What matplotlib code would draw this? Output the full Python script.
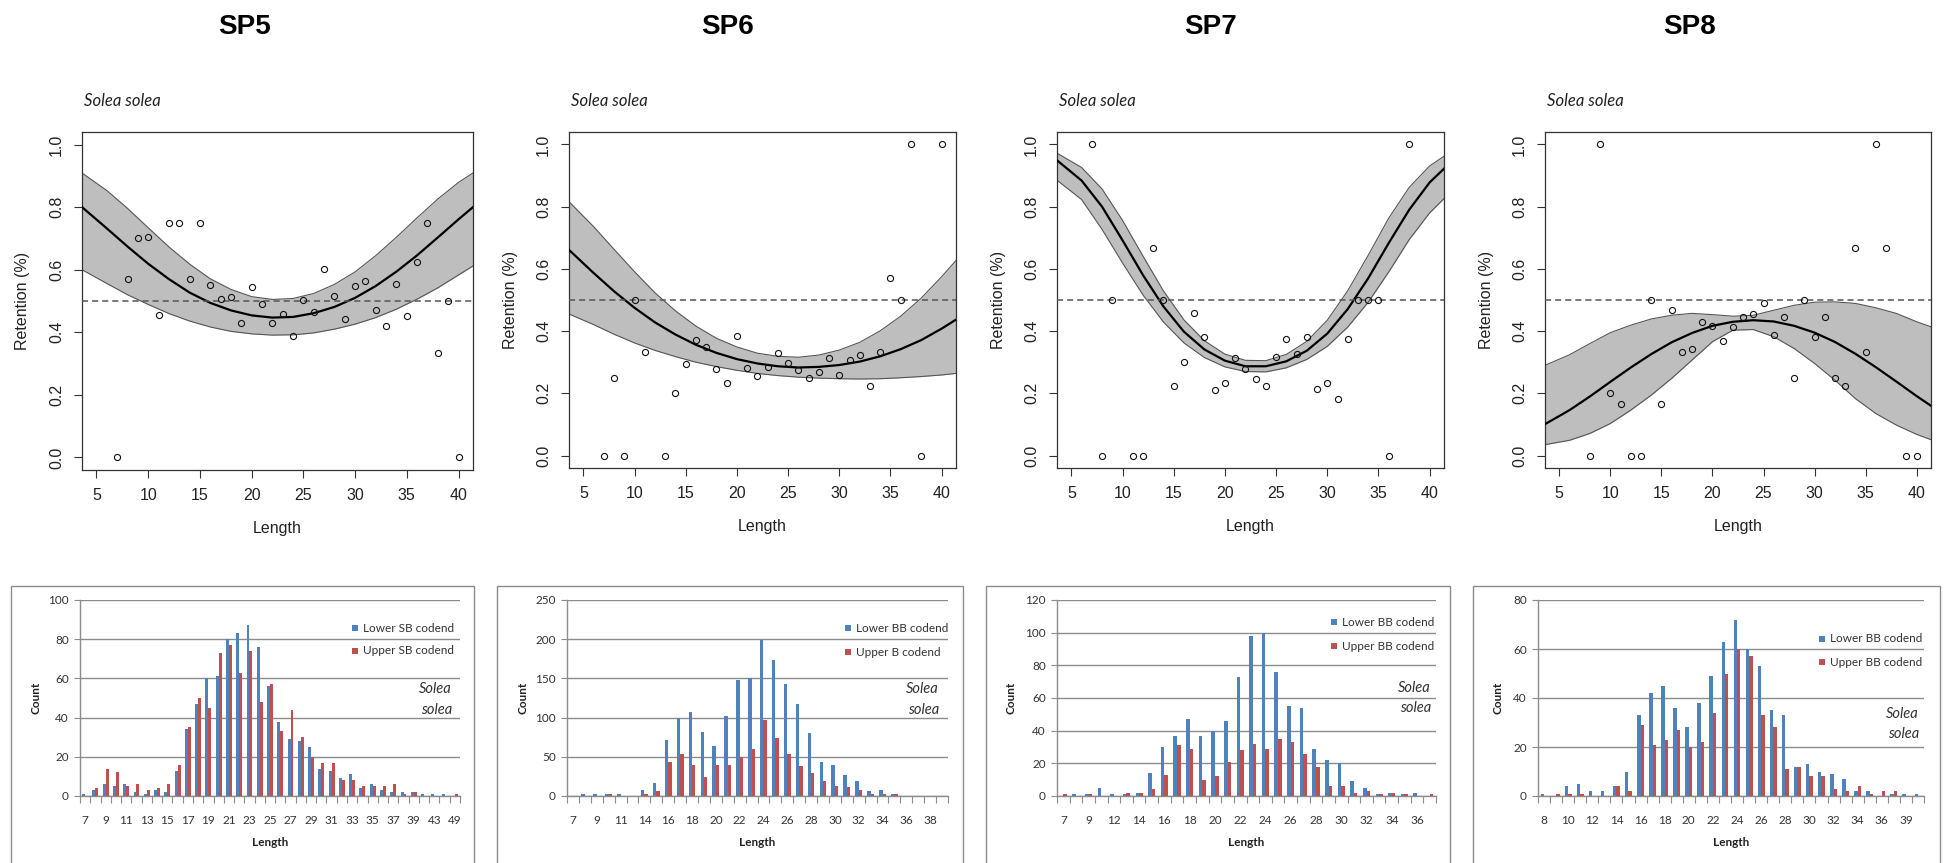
import matplotlib
matplotlib.use("Agg")
import matplotlib.pyplot as plt
from matplotlib.patches import Rectangle

# ---------------------------------------------------------------- data
# retention by length class (observed proportions)
sp5_len = list(range(7, 41))
sp5_ret = [0.0, 0.571, 0.700, 0.706, 0.455, 0.75, 0.75, 0.571, 0.75, 0.55,
           0.507, 0.514, 0.429, 0.545, 0.490, 0.429, 0.459, 0.387, 0.504, 0.465,
           0.602, 0.516, 0.444, 0.547, 0.564, 0.471, 0.421, 0.553, 0.452, 0.624,
           0.75, 0.333, 0.5, 0.0]

sp6_len = [7, 8, 9, 10, 11, 13, 14, 15, 16, 17, 18, 19, 20, 21, 22, 23, 24, 25,
           26, 27, 28, 29, 30, 31, 32, 33, 34, 35, 36, 37, 38, 40]
sp6_ret = [0.0, 0.25, 0.0, 0.5, 0.333, 0.0, 0.2, 0.293, 0.371, 0.35, 0.279,
           0.233, 0.385, 0.282, 0.255, 0.285, 0.331, 0.299, 0.274, 0.248, 0.267,
           0.314, 0.258, 0.308, 0.322, 0.224, 0.333, 0.571, 0.5, 1.0, 0.0, 1.0]

sp7_len = [7, 8, 9, 11, 12, 13, 14, 15, 16, 17, 18, 19, 20, 21, 22, 23, 24, 25,
           26, 27, 28, 29, 30, 31, 32, 33, 34, 35, 36, 38]
sp7_ret = [1.0, 0.0, 0.5, 0.0, 0.0, 0.667, 0.5, 0.224, 0.302, 0.457, 0.382,
           0.212, 0.233, 0.314, 0.279, 0.247, 0.224, 0.317, 0.375, 0.326, 0.382,
           0.215, 0.233, 0.183, 0.375, 0.5, 0.5, 0.5, 0.0, 1.0]

sp8_len = [8, 9, 10, 11, 12, 13, 14, 15, 16, 17, 18, 19, 20, 21, 22, 23, 24, 25,
           26, 27, 28, 29, 30, 31, 32, 33, 34, 35, 36, 37, 39, 40]
sp8_ret = [0.0, 1.0, 0.2, 0.167, 0.0, 0.0, 0.5, 0.167, 0.467, 0.333, 0.341,
           0.429, 0.417, 0.368, 0.412, 0.444, 0.454, 0.489, 0.386, 0.445, 0.25,
           0.5, 0.382, 0.444, 0.25, 0.222, 0.667, 0.333, 1.0, 0.667, 0.0, 0.0]

# fitted retention curves with confidence bands
fit_len = [3.6, 6, 8, 10, 12, 14, 16, 18, 20, 22, 24, 26, 28, 30, 32, 34, 36,
           38, 40, 41.4]

sp5_fit = [0.800, 0.732, 0.674, 0.619, 0.570, 0.527, 0.494, 0.470, 0.454, 0.447,
           0.449, 0.461, 0.481, 0.510, 0.548, 0.594, 0.646, 0.703, 0.761, 0.800]
sp5_hi = [0.909, 0.853, 0.796, 0.734, 0.673, 0.618, 0.571, 0.537, 0.514, 0.505,
          0.508, 0.524, 0.553, 0.593, 0.645, 0.704, 0.766, 0.826, 0.879, 0.909]
sp5_lo = [0.600, 0.556, 0.520, 0.489, 0.460, 0.436, 0.417, 0.403, 0.395, 0.391,
          0.392, 0.398, 0.410, 0.426, 0.447, 0.474, 0.506, 0.542, 0.583, 0.612]

sp6_fit = [0.661, 0.587, 0.528, 0.475, 0.428, 0.389, 0.356, 0.330, 0.310, 0.296,
           0.287, 0.283, 0.285, 0.291, 0.302, 0.319, 0.342, 0.371, 0.408, 0.437]
sp6_hi = [0.816, 0.736, 0.663, 0.591, 0.523, 0.465, 0.416, 0.377, 0.349, 0.329,
          0.319, 0.316, 0.323, 0.339, 0.364, 0.401, 0.448, 0.506, 0.575, 0.627]
sp6_lo = [0.455, 0.421, 0.390, 0.362, 0.338, 0.318, 0.300, 0.286, 0.274, 0.264,
          0.257, 0.252, 0.249, 0.247, 0.246, 0.247, 0.250, 0.254, 0.259, 0.264]

sp7_fit = [0.949, 0.884, 0.800, 0.692, 0.580, 0.479, 0.398, 0.341, 0.305, 0.287,
           0.287, 0.303, 0.337, 0.392, 0.471, 0.570, 0.683, 0.790, 0.878, 0.922]
sp7_hi = [0.972, 0.926, 0.857, 0.756, 0.641, 0.529, 0.436, 0.369, 0.326, 0.306,
          0.305, 0.325, 0.367, 0.435, 0.530, 0.644, 0.763, 0.862, 0.931, 0.962]
sp7_lo = [0.885, 0.823, 0.727, 0.619, 0.516, 0.429, 0.362, 0.315, 0.285, 0.270,
          0.269, 0.282, 0.309, 0.351, 0.413, 0.493, 0.590, 0.694, 0.780, 0.826]

sp8_fit = [0.101, 0.146, 0.190, 0.237, 0.283, 0.326, 0.364, 0.394, 0.417, 0.430,
           0.435, 0.431, 0.417, 0.395, 0.365, 0.327, 0.284, 0.238, 0.191, 0.160]
sp8_hi = [0.290, 0.324, 0.360, 0.395, 0.419, 0.439, 0.451, 0.457, 0.453, 0.448,
          0.451, 0.467, 0.483, 0.493, 0.494, 0.489, 0.475, 0.457, 0.430, 0.414]
sp8_lo = [0.035, 0.049, 0.071, 0.103, 0.146, 0.194, 0.248, 0.307, 0.366, 0.403,
          0.405, 0.382, 0.344, 0.296, 0.242, 0.183, 0.135, 0.098, 0.068, 0.051]

# length-frequency counts per codend
sp5_cats = list(range(7, 40)) + [41, 43, 45, 49]
sp5_lower = [1, 3, 6, 5, 6, 2, 1, 3, 2, 13, 34, 47, 60, 61, 80, 83, 87, 76, 56,
             38, 29, 28, 25, 14, 13, 9, 11, 4, 6, 3, 2, 2, 2, 1, 1, 1, 0]
sp5_upper = [0, 4, 14, 12, 5, 6, 3, 4, 6, 16, 35, 50, 45, 73, 77, 63, 74, 48, 57,
             33, 44, 30, 20, 17, 17, 8, 8, 5, 5, 5, 6, 1, 2, 0, 0, 0, 1]

sp6_cats = [7, 8, 9, 10, 11, 13] + list(range(14, 40))
sp6_lower = [0, 3, 3, 3, 2, 0, 8, 17, 72, 100, 107, 82, 64, 102, 148, 150, 199,
             173, 143, 117, 80, 44, 39, 27, 19, 7, 8, 3, 0, 0, 0, 0]
sp6_upper = [0, 0, 0, 3, 0, 0, 2, 7, 43, 54, 40, 24, 39, 39, 50, 60, 97, 74, 54,
             38, 29, 19, 13, 12, 8, 2, 3, 3, 0, 0, 0, 0]

sp7_cats = [7, 8, 9, 10] + list(range(12, 38))
sp7_lower = [0, 1, 1, 5, 1, 1, 2, 14, 30, 37, 47, 37, 40, 46, 73, 98, 100, 76, 55,
             54, 29, 22, 20, 9, 5, 1, 2, 1, 2, 0]
sp7_upper = [1, 0, 1, 0, 0, 2, 2, 4, 13, 31, 29, 10, 12, 21, 28, 32, 29, 35, 33,
             26, 18, 6, 6, 2, 3, 1, 2, 1, 0, 1]

sp8_cats = list(range(8, 37)) + [38, 39, 40]
sp8_lower = [1, 0, 4, 5, 2, 2, 4, 10, 33, 42, 45, 36, 28, 38, 49, 63, 72, 60, 53,
             35, 33, 12, 13, 10, 9, 7, 2, 2, 0, 1, 1, 1]
sp8_upper = [0, 1, 1, 1, 0, 0, 4, 2, 29, 21, 23, 27, 20, 22, 34, 50, 60, 57, 33,
             28, 11, 12, 8, 8, 3, 2, 4, 1, 2, 2, 0, 0]

# ---------------------------------------------------------------- figure
W, H = 1944, 863
fig = plt.figure(figsize=(W / 100, H / 100), dpi=100)
fig.patch.set_facecolor("white")

R_FONT = "Liberation Sans"
XL_FONT = "Lato"
BLUE = "#4F81BD"
RED = "#C0504D"
GRID = "#8C8C8C"


def fx(x):
    return x / W


def fy(y):
    return 1 - y / H


def px_axes(x0, y0, x1, y1):
    return fig.add_axes([fx(x0), fy(y1), (x1 - x0) / W, (y1 - y0) / H])


# ---------------------------------------------------------------- retention panels
top_panels = [
    ("SP5", 245, (82, 132, 473, 470), sp5_len, sp5_ret, sp5_fit, sp5_lo, sp5_hi),
    ("SP6", 728, (569, 132, 956, 468), sp6_len, sp6_ret, sp6_fit, sp6_lo, sp6_hi),
    ("SP7", 1211, (1057, 132, 1444, 468), sp7_len, sp7_ret, sp7_fit, sp7_lo, sp7_hi),
    ("SP8", 1690, (1545, 132, 1931, 468), sp8_len, sp8_ret, sp8_fit, sp8_lo, sp8_hi),
]

for title, tx, box, lens, ret, fit, lo, hi in top_panels:
    x0, y0, x1, y1 = box
    fig.text(fx(tx), fy(27), title, family=R_FONT, weight="bold", fontsize=20,
             ha="center", va="center")
    fig.text(fx(x0 + 2), fy(101), "Solea solea", family=XL_FONT, style="italic",
             fontsize=12, ha="left", va="center", color="#222222")

    ax = px_axes(x0, y0, x1, y1)
    ax.fill_between(fit_len, lo, hi, color="#BEBEBE", lw=0, zorder=1)
    ax.plot(fit_len, hi, color="#555555", lw=0.8, zorder=2)
    ax.plot(fit_len, lo, color="#555555", lw=0.8, zorder=2)
    ax.plot(fit_len, fit, color="black", lw=1.6, zorder=3)
    ax.axhline(0.5, color="#555555", lw=1.1, dashes=(4, 2.6), zorder=3)
    ax.plot(lens, ret, "o", mfc="none", mec="#111111", ms=4.4, mew=0.8, zorder=4)

    ax.set_xlim(3.6, 41.4)
    ax.set_ylim(-0.04, 1.04)
    ax.set_xticks([5, 10, 15, 20, 25, 30, 35, 40])
    ax.set_yticks([0, 0.2, 0.4, 0.6, 0.8, 1.0])
    ax.set_yticklabels(["0.0", "0.2", "0.4", "0.6", "0.8", "1.0"], rotation=90,
                       va="center")
    ax.tick_params(direction="out", length=6, width=0.8, color="#333333",
                   labelsize=11.5, labelcolor="#222222")
    ax.tick_params(axis="x", pad=7)
    ax.tick_params(axis="y", pad=7)
    for lab in ax.get_xticklabels() + ax.get_yticklabels():
        lab.set_family(R_FONT)
    for sp in ax.spines.values():
        sp.set_color("#333333")
        sp.set_linewidth(0.9)

    fig.text(fx(x0 - 59), fy((y0 + y1) / 2), "Retention (%)", family=R_FONT,
             fontsize=11.5, rotation=90, ha="center", va="center", color="#222222")
    fig.text(fx((x0 + x1) / 2), fy(y1 + 58), "Length", family=R_FONT,
             fontsize=11.5, ha="center", va="center", color="#222222")

# ---------------------------------------------------------------- length-frequency panels
bar_panels = [
    dict(box=(11, 474), plot=(80, 460), cats=sp5_cats, lower=sp5_lower,
         upper=sp5_upper, ymax=100, ystep=20,
         names=("Lower SB codend", "Upper SB codend"), leg=(355, 628, 651),
         sp=(452, 689, 710), count_x=36),
    dict(box=(497, 963), plot=(567, 948), cats=sp6_cats, lower=sp6_lower,
         upper=sp6_upper, ymax=250, ystep=50,
         names=("Lower BB codend", "Upper B codend"), leg=(848, 628, 652),
         sp=(939, 689, 710), count_x=523),
    dict(box=(986, 1450), plot=(1057, 1436), cats=sp7_cats, lower=sp7_lower,
         upper=sp7_upper, ymax=120, ystep=20,
         names=("Lower BB codend", "Upper BB codend"), leg=(1334, 622, 646),
         sp=(1431, 688, 708), count_x=1011),
    dict(box=(1473, 1940), plot=(1538, 1924), cats=sp8_cats, lower=sp8_lower,
         upper=sp8_upper, ymax=80, ystep=20,
         names=("Lower BB codend", "Upper BB codend"), leg=(1822, 639, 662),
         sp=(1919, 714, 734), count_x=1498),
]

PLOT_TOP, PLOT_BOTTOM = 600, 796
bw = 1 / 3.5

for p in bar_panels:
    bx0, bx1 = p["box"]
    fig.add_artist(Rectangle((fx(bx0), fy(875)), (bx1 - bx0) / W, (875 - 586) / H,
                             transform=fig.transFigure, fill=False,
                             edgecolor="#8C8C8C", lw=1.0))
    px0, px1 = p["plot"]
    ax = px_axes(px0, PLOT_TOP, px1, PLOT_BOTTOM)
    n = len(p["cats"])
    pos = list(range(n))
    ax.bar([i - bw / 2 for i in pos], p["lower"], width=bw, color=BLUE, lw=0,
           zorder=3)
    ax.bar([i + bw / 2 for i in pos], p["upper"], width=bw, color=RED, lw=0,
           zorder=3)
    ax.set_xlim(-0.5, n - 0.5)
    ax.set_ylim(0, p["ymax"])
    ax.set_yticks(list(range(0, p["ymax"] + 1, p["ystep"])))
    ax.yaxis.grid(True, color=GRID, lw=1.0, zorder=0)
    ax.set_axisbelow(True)
    ax.set_xticks(pos[::2])
    ax.set_xticklabels([str(c) for c in p["cats"][::2]])
    ax.set_xticks([i - 0.5 for i in range(n + 1)], minor=True)
    ax.tick_params(axis="x", which="major", length=0, pad=14, labelsize=8.5,
                   labelcolor="#333333")
    ax.tick_params(axis="x", which="minor", length=5, width=0.8, color=GRID,
                   direction="out")
    ax.tick_params(axis="y", length=4, width=0.8, color=GRID, direction="out",
                   labelsize=8.5, labelcolor="#333333", pad=4)
    for lab in ax.get_xticklabels() + ax.get_yticklabels():
        lab.set_family(XL_FONT)
    for side in ("top", "right"):
        ax.spines[side].set_visible(False)
    for side in ("left", "bottom"):
        ax.spines[side].set_color(GRID)
        ax.spines[side].set_linewidth(1.0)

    # legend entries
    lx, ly1, ly2 = p["leg"]
    for (yy, col, name) in ((ly1, BLUE, p["names"][0]), (ly2, RED, p["names"][1])):
        fig.add_artist(Rectangle((fx(lx - 3), fy(yy + 3)), 6 / W, 6 / H,
                                 transform=fig.transFigure, color=col, lw=0))
        fig.text(fx(lx + 8), fy(yy), name, family=XL_FONT, fontsize=8.5,
                 ha="left", va="center", color="#333333")

    # species label
    sx, sy1, sy2 = p["sp"]
    fig.text(fx(sx), fy(sy1), "Solea", family=XL_FONT, style="italic",
             fontsize=10.5, ha="right", va="center", color="#333333")
    fig.text(fx(sx), fy(sy2), "solea", family=XL_FONT, style="italic",
             fontsize=10.5, ha="right", va="center", color="#333333")

    fig.text(fx(p["count_x"]), fy((PLOT_TOP + PLOT_BOTTOM) / 2), "Count",
             family=XL_FONT, weight="bold", fontsize=8.5, rotation=90,
             ha="center", va="center", color="#222222")
    fig.text(fx((px0 + px1) / 2), fy(842), "Length", family=XL_FONT,
             weight="bold", fontsize=8.5, ha="center", va="center",
             color="#222222")

fig.savefig("out.png", dpi=100)
